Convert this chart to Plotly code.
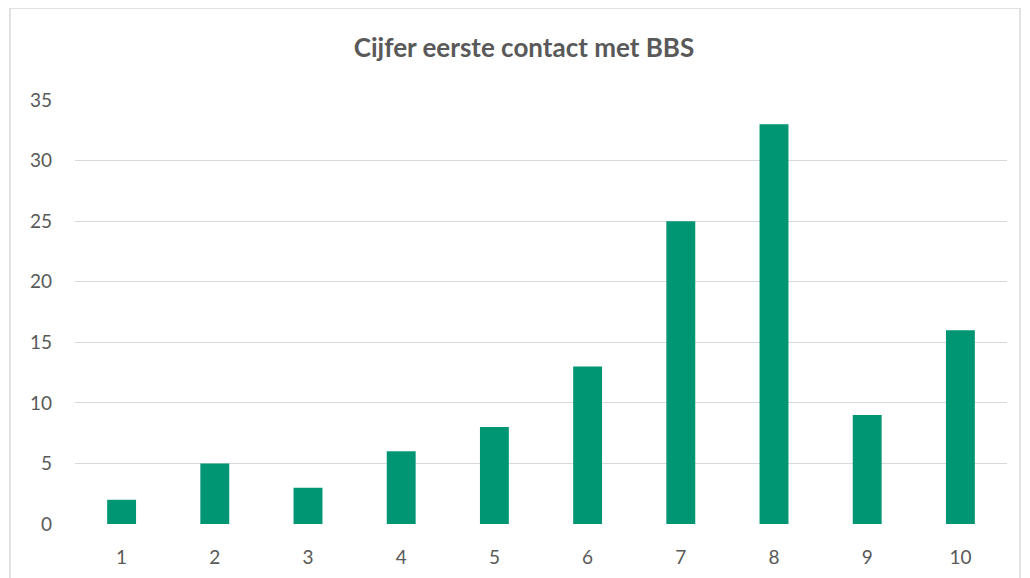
import plotly.graph_objects as go

categories = ["1", "2", "3", "4", "5", "6", "7", "8", "9", "10"]
values = [2, 5, 3, 6, 8, 13, 25, 33, 9, 16]
title_text = "Cijfer eerste contact met BBS"

W, H = 1030, 578
OFF = 8  # default page body margin
ml, mt = 75 - OFF, 100 - OFF
pw, ph = 932, 424
mr = W - ml - pw
mb = H - mt - ph

def px_x(x):
    return (x - OFF - ml) / pw

def px_y(y):
    return (mt + ph - (y - OFF)) / ph

fig = go.Figure(go.Bar(
    x=categories, y=values,
    marker=dict(color="#009673", line=dict(width=0)),
))

fig.update_layout(
    width=W, height=H,
    margin=dict(l=ml, r=mr, t=mt, b=mb),
    paper_bgcolor="white", plot_bgcolor="white",
    bargap=0.69,
    showlegend=False,
    font=dict(family="Lato, Open Sans, sans-serif", color="#595959", size=18),
    title=dict(text="<b>" + title_text + "</b>", x=px_x(524), xref="paper", xanchor="center",
               y=1 - (48 - OFF) / H, yanchor="middle", font=dict(size=26, color="#595959")),
    xaxis=dict(type="category", showgrid=False, zeroline=False, showline=False,
               ticks="", automargin=False, ticklabelstandoff=20,
               tickfont=dict(size=19, color="#595959")),
    yaxis=dict(range=[0, 35], dtick=5, showgrid=True, gridcolor="#D9D9D9", gridwidth=1.3,
               zeroline=False, showline=False, ticks="", automargin=False, ticklabelstandoff=22,
               tickfont=dict(size=19, color="#595959")),
    shapes=[dict(type="rect", xref="paper", yref="paper",
                 x0=px_x(10), x1=px_x(1020), y0=px_y(640), y1=px_y(8),
                 line=dict(color="#D9D9D9", width=1.5), layer="below")],
)

fig.write_html("out.html")
